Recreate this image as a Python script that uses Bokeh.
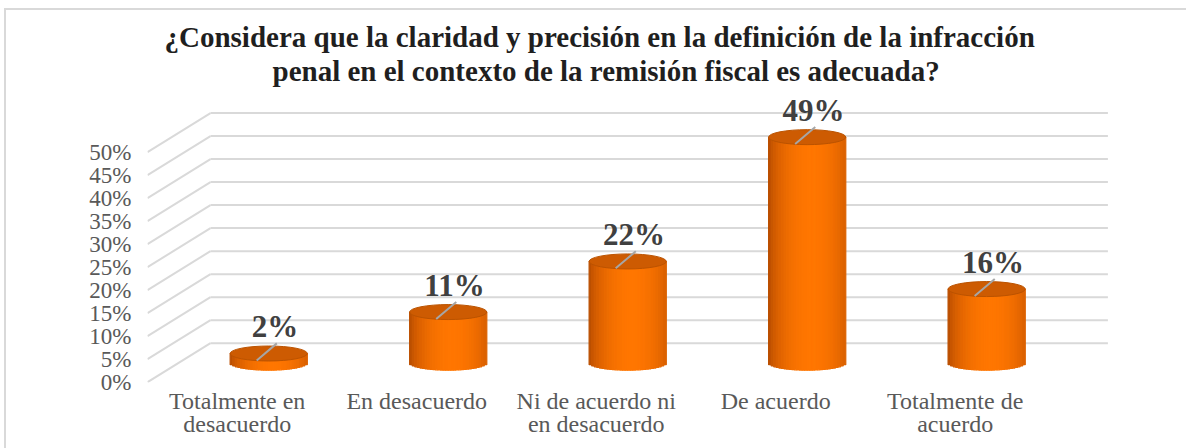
import numpy as np
from bokeh.plotting import figure
from bokeh.models import Range1d, LinearAxis, FixedTicker, Title
from bokeh.embed import file_html
from bokeh.resources import INLINE
from bokeh.core.properties import value

# ---------------- data ----------------
categories = ["Totalmente en desacuerdo", "En desacuerdo",
              "Ni de acuerdo ni en desacuerdo", "De acuerdo", "Totalmente de acuerdo"]
category_tick_labels = ["Totalmente en\ndesacuerdo", "En desacuerdo",
                        "Ni de acuerdo ni\nen desacuerdo", "De acuerdo", "Totalmente de\nacuerdo"]
percentages = [2, 11, 22, 49, 16]
value_labels = ["2%", "11%", "22%", "49%", "16%"]
y_ticks = [0, 5, 10, 15, 20, 25, 30, 35, 40, 45, 50]
y_tick_labels = ["0%", "5%", "10%", "15%", "20%", "25%", "30%", "35%", "40%", "45%", "50%"]
title_lines = ["¿Considera que la claridad y precisión en la definición de la infracción",
               "penal en el contexto de la remisión fiscal es adecuada?"]

# ---------------- 3D style constants ----------------
DX = 0.1755      # half depth (category units)
DY = 4.24        # half depth (percent units)
W = 0.43         # cylinder width (category units)
RY = 1.63        # cylinder ellipse half height (percent units)
N_STRIPS = 30
FONT = "Liberation Serif"

n = len(categories)
x_start, x_end = -0.5 - DX, n - 0.5 + DX + 0.02
y_start, y_end = -4.3, 58.7

p = figure(width=1186, height=448,
           x_range=Range1d(x_start, x_end), y_range=Range1d(y_start, y_end),
           x_axis_location=None, y_axis_location=None, title=None,
           toolbar_location=None, output_backend="svg",
           min_border_left=147, min_border_right=75,
           min_border_top=92, min_border_bottom=66)
p.outline_line_color = None
p.background_fill_color = "white"
p.border_fill_color = None
p.styles = {
    "background-color": "white",
    "background-image": "linear-gradient(#d9d9d9,#d9d9d9), linear-gradient(#d9d9d9,#d9d9d9)",
    "background-size": "2px 440px, 1182px 2px",
    "background-position": "4px 8px, 4px 8px",
    "background-repeat": "no-repeat",
}
p.grid.visible = False
p.extra_x_ranges = {"front": Range1d(x_start + DX, x_end + DX)}
p.extra_y_ranges = {"front": Range1d(y_start + DY, y_end + DY)}

# back wall grid lines and side (floor-to-wall) diagonals
gy_back = [t + DY for t in y_ticks]
p.segment(x0=[-0.5 + DX] * len(y_ticks), y0=gy_back,
          x1=[n - 0.5 + DX] * len(y_ticks), y1=gy_back,
          line_color="#d9d9d9", line_width=2)
p.segment(x0=[-0.5 - DX] * len(y_ticks), y0=[t - DY for t in y_ticks],
          x1=[-0.5 + DX] * len(y_ticks), y1=gy_back,
          line_color="#d9d9d9", line_width=2)

# cylinders: shaded vertical strips
dark = np.array([172, 70, 0])
bright = np.array([255, 118, 0])
us = (np.arange(N_STRIPS) + 0.5) / N_STRIPS * 2 - 1
sx, sb, st, sc = [], [], [], []
for i, v in enumerate(percentages):
    for u in us:
        t = np.clip((u - 0.12) / 1.12, -1, 1)
        b = np.cos(t * np.pi / 2) ** 0.55
        c = dark + (bright - dark) * b
        sx.append(i + u * W / 2)
        sb.append(-RY * np.sqrt(max(0.0, 1 - u * u)))
        st.append(v)
        sc.append("#%02x%02x%02x" % tuple(int(round(k)) for k in c))
p.vbar(x=sx, width=W / N_STRIPS, bottom=sb, top=st,
       fill_color=sc, line_color=sc, line_width=1.2)

idx = list(range(n))
p.ellipse(x=idx, y=percentages, width=W, height=2 * RY,
          fill_color="#cd5b02", line_color="#bb5300", line_width=1)

# leader lines and value labels
p.segment(x0=[i - 0.067 for i in idx], y0=[v - 1.5 for v in percentages],
          x1=[i + 0.045 for i in idx], y1=[v + 2.2 for v in percentages],
          line_color="#a6a6a6", line_width=2)
p.text(x=[i + 0.035 for i in idx], y=percentages, text=value_labels,
       y_offset=-27, text_align="center", text_baseline="middle",
       text_font=value(FONT), text_font_style="bold", text_font_size="31px",
       text_color="#404040")

# axes on the front plane
yaxis = LinearAxis(y_range_name="front", ticker=FixedTicker(ticks=y_ticks),
                   major_label_overrides={t: l for t, l in zip(y_ticks, y_tick_labels)})
xaxis = LinearAxis(x_range_name="front", ticker=FixedTicker(ticks=idx),
                   major_label_overrides={i: l for i, l in zip(idx, category_tick_labels)})
for ax, size, standoff, lh in ((yaxis, "23px", 16, 1.0), (xaxis, "24px", 5, 0.9)):
    ax.axis_line_color = None
    ax.major_tick_line_color = None
    ax.minor_tick_line_color = None
    ax.major_tick_in = 0
    ax.major_tick_out = 0
    ax.major_label_standoff = standoff
    ax.major_label_text_font = FONT
    ax.major_label_text_font_size = size
    ax.major_label_text_color = "#595959"
    ax.major_label_text_line_height = lh
p.add_layout(yaxis, "left")
p.add_layout(xaxis, "below")

# two-line title (last added is outermost); centred on the whole chart area
for line, standoff, offset in ((title_lines[1], 11, 125), (title_lines[0], -11, 17)):
    p.add_layout(Title(text=line, align="left", text_font=FONT,
                       text_font_style="bold", text_font_size="29px",
                       text_line_height=1.0,
                       text_color="#1f1f1f", standoff=standoff, offset=offset), "above")

open("out.html", "w").write(file_html(p, INLINE))
